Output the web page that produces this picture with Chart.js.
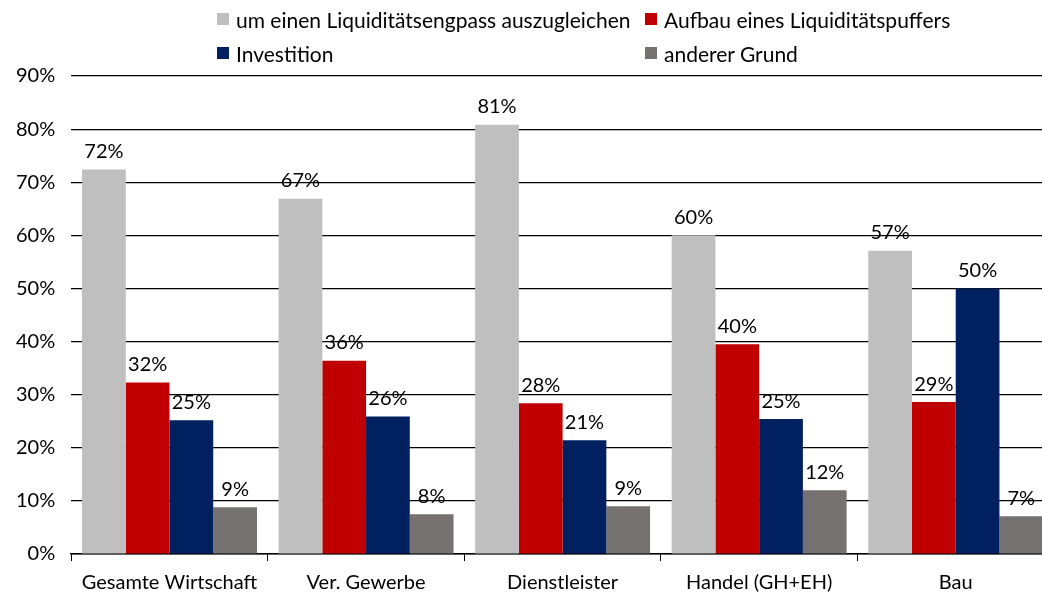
<!DOCTYPE html>
<html>
<head>
<meta charset="utf-8">
<script src="https://cdn.jsdelivr.net/npm/chart.js@4/dist/chart.umd.min.js"></script>
<style>
  html, body { margin: 0; padding: 0; background: #fff; overflow: hidden; }
  #wrap { position: relative; width: 1042px; height: 594px; overflow: hidden; }
  #legend {
    position: absolute; left: 217px; top: 6px;
    display: grid; grid-template-columns: 428px auto; row-gap: 8px;
    font-family: Lato, sans-serif; font-size: 21px; color: #000;
  }
  #legend div { display: flex; align-items: center; height: 26px; white-space: nowrap; }
  #legend span.box { width: 12px; height: 12px; margin-right: 7px; display: inline-block; }
</style>
</head>
<body>
<div id="wrap">
  <canvas id="chart" width="1054" height="605"></canvas>
  <div id="legend"></div>
</div>
<script>
  const categories = ["Gesamte Wirtschaft", "Ver. Gewerbe", "Dienstleister", "Handel (GH+EH)", "Bau"];
  const seriesNames = [
    "um einen Liquiditätsengpass auszugleichen",
    "Aufbau eines Liquiditätspuffers",
    "Investition",
    "anderer Grund"
  ];
  const engpass = [72.4, 66.9, 80.8, 60.0, 57.1];
  const puffer = [32.3, 36.4, 28.4, 39.5, 28.6];
  const investition = [25.2, 25.9, 21.4, 25.4, 50.0];
  const andere = [8.8, 7.5, 9.0, 12.0, 7.1];
  const colors = ["#bfbfbf", "#c00000", "#002060", "#767171"];

  const values = [engpass, puffer, investition, andere];

  // legend in two aligned columns
  const legendEl = document.getElementById("legend");
  [0, 1, 2, 3].forEach((i) => {
    const d = document.createElement("div");
    d.innerHTML = '<span class="box" style="background:' + colors[i] + '"></span>' + seriesNames[i];
    legendEl.appendChild(d);
  });

  // value labels above bars
  const barLabels = {
    id: "barLabels",
    afterDatasetsDraw(chart) {
      const ctx = chart.ctx;
      ctx.save();
      ctx.font = "20px Lato, sans-serif";
      ctx.fillStyle = "#000";
      ctx.textAlign = "center";
      ctx.textBaseline = "bottom";
      chart.data.datasets.forEach((ds, i) => {
        chart.getDatasetMeta(i).data.forEach((bar, j) => {
          ctx.fillText(Math.round(ds.data[j]) + "%", bar.x, bar.y - 8);
        });
      });
      ctx.restore();
    }
  };

  new Chart(document.getElementById("chart"), {
    type: "bar",
    data: {
      labels: categories,
      datasets: values.map((v, i) => ({
        label: seriesNames[i],
        data: v,
        backgroundColor: colors[i],
        categoryPercentage: 0.89,
        barPercentage: 1.0
      }))
    },
    options: {
      responsive: false,
      animation: false,
      layout: { padding: { top: 76, right: 0, left: 0, bottom: 0 } },
      plugins: {
        legend: { display: false },
        tooltip: { enabled: false }
      },
      scales: {
        x: {
          grid: {
            offset: true,
            drawOnChartArea: false,
            drawTicks: true,
            tickLength: 7,
            color: "#000"
          },
          border: { color: "#000", width: 1.5 },
          ticks: {
            font: { family: "Lato", size: 20 },
            color: "#000",
            padding: 10
          }
        },
        y: {
          min: 0,
          max: 90,
          ticks: {
            stepSize: 10,
            callback: (v) => v + "%",
            font: { family: "Lato", size: 20 },
            color: "#000",
            padding: 16
          },
          grid: { color: "#000", lineWidth: 1.2, drawTicks: false },
          border: { display: false }
        }
      }
    },
    plugins: [barLabels]
  });
</script>
</body>
</html>
